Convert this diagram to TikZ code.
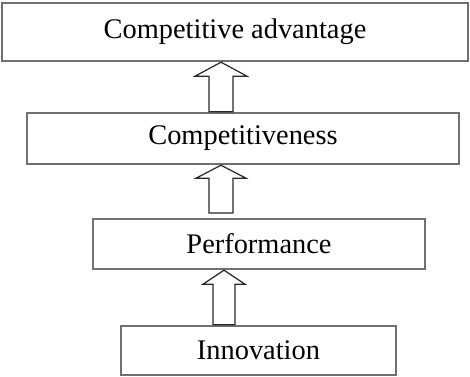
\documentclass[tikz,border=0pt]{standalone}
\usepackage{fontspec}
\setmainfont{Liberation Serif}
\usetikzlibrary{positioning,calc}
\definecolor{boxgray}{RGB}{112,112,112}
\definecolor{arrgray}{RGB}{40,40,40}
\tikzset{
    level/.style={
        draw=boxgray,line width=1.2pt,fill=white,
        align=center,inner sep=0pt,font=\fontsize{14.2}{17}\selectfont
    },
    hollow/.style={
        draw=arrgray,line width=.6pt,fill=white,line join=miter
    }
}
\begin{document}
\begin{tikzpicture}[x=.5pt,y=-.5pt]

\useasboundingbox (0,0) rectangle (470,376);

\node[level,minimum width=233pt,minimum height=29pt]
(cadv) at (235,32) {Competitive advantage};

\node[level,minimum width=216pt,minimum height=25.5pt]
(comp) at (243,138.5) {Competitiveness};

\node[level,minimum width=166pt,minimum height=25pt]
(perf) at (259,244) {Performance};

\node[level,minimum width=137.5pt,minimum height=24.5pt]
(inno) at (258.5,350.5) {Innovation};

% hollow arrows between the levels
\coordinate (t1) at (cadv.south -| 221,0);
\coordinate (b1) at (comp.north -| 221,0);
\draw[hollow] (t1) -- ++(26,14) -- ++(-14,0) -- ($(b1)+(12,0)$)
-- ($(b1)+(-12,0)$) -- ($(t1)+(-12,14)$) -- ++(-14,0) -- cycle;

\coordinate (t2) at (comp.south -| 221,0);
\coordinate (b2) at (221,213);
\draw[hollow] (t2) -- ++(25,13) -- ++(-13,0) -- ($(b2)+(12,0)$)
-- ($(b2)+(-12,0)$) -- ($(t2)+(-12,13)$) -- ++(-13,0) -- cycle;

\coordinate (t3) at (perf.south -| 224,0);
\coordinate (b3) at (inno.north -| 224,0);
\draw[hollow] (t3) -- ++(21,14) -- ++(-10,0) -- ($(b3)+(11,0)$)
-- ($(b3)+(-11,0)$) -- ($(t3)+(-11,14)$) -- ++(-10,0) -- cycle;

\end{tikzpicture}
\end{document}
